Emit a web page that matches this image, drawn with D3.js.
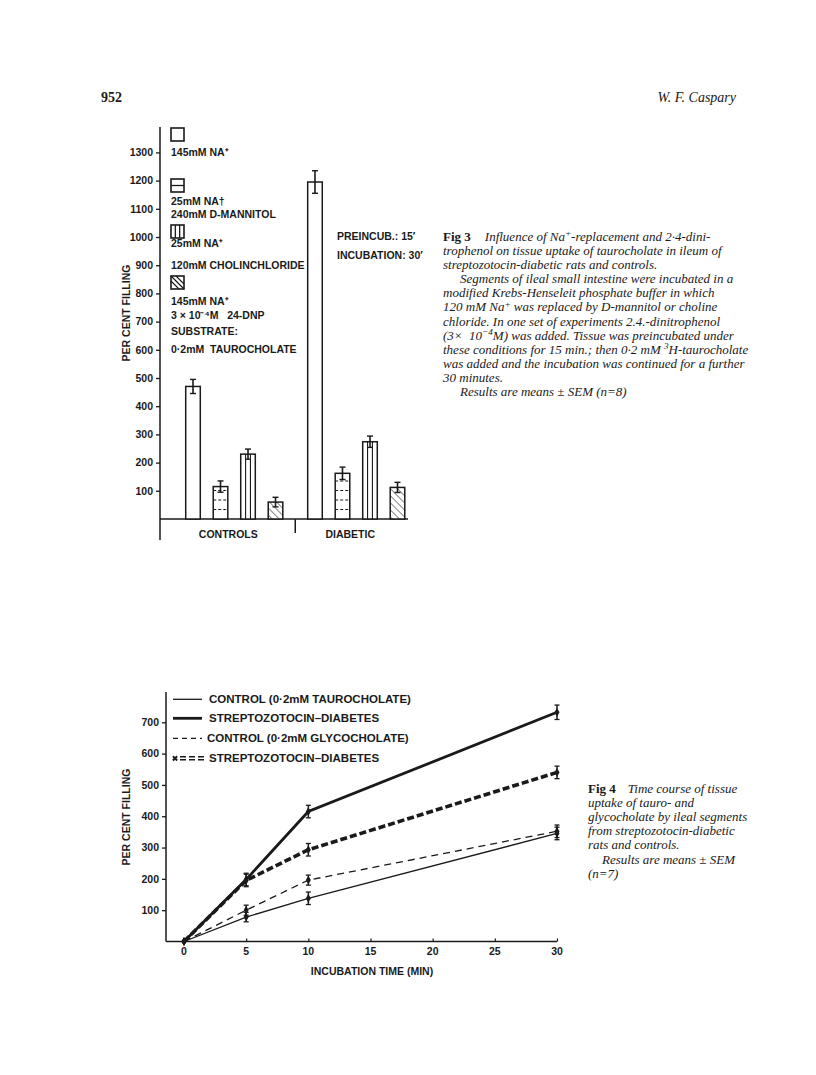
<!DOCTYPE html>
<html><head><meta charset="utf-8">
<script src="https://cdn.jsdelivr.net/npm/d3@7"></script>
<style>
html,body{margin:0;padding:0;background:#fff;}
svg{display:block;}
.sans{font-family:"Liberation Sans",Arial,sans-serif;font-weight:bold;fill:#1a1a1a;}
.serif{font-family:"Liberation Serif","Times New Roman",serif;fill:#1a1a1a;}
</style>
</head><body>
<svg id="c" width="816" height="1075"></svg>
<script>
// ---------- Fig 3 data ----------
const groups = ["CONTROLS", "DIABETIC"];
const conditions = ["145mM NA+", "25mM NA+ / 240mM D-MANNITOL", "25mM NA+ / 120mM CHOLINCHLORIDE", "145mM NA+ / 24-DNP"];
const controlsValues = [470, 115, 230, 60];
const controlsErrors = [25, 20, 18, 17];
const diabeticValues = [1195, 162, 274, 112];
const diabeticErrors = [40, 22, 20, 18];
const fig3Ticks = [100, 200, 300, 400, 500, 600, 700, 800, 900, 1000, 1100, 1200, 1300];

// ---------- Fig 4 data ----------
const times = [0, 5, 10, 30];
const ctrlTauro = [0, 78, 138, 345];
const ctrlTauroErr = [0, 15, 20, 20];
const diabTauro = [0, 198, 415, 732];
const diabTauroErr = [0, 20, 20, 23];
const ctrlGlyco = [0, 100, 196, 352];
const ctrlGlycoErr = [0, 16, 16, 20];
const diabGlyco = [0, 195, 293, 540];
const diabGlycoErr = [0, 20, 20, 20];
const fig4YTicks = [100, 200, 300, 400, 500, 600, 700];
const fig4XTicks = [0, 5, 10, 15, 20, 25, 30];
const fig4Legend = ["CONTROL (0·2mM TAUROCHOLATE)", "STREPTOZOTOCIN–DIABETES", "CONTROL (0·2mM GLYCOCHOLATE)", "STREPTOZOTOCIN–DIABETES"];

const svg = d3.select("#c");
const ink = "#1a1a1a";

// text with ^{sup} markup
function richText(sel, str) {
  const parts = str.split(/(\^\{[^}]*\})/);
  let raised = false;
  parts.forEach(p => {
    if (!p) return;
    if (p.startsWith("^{")) {
      sel.append("tspan").attr("dy", -4.5).attr("font-size", "0.7em").text(p.slice(2, -1));
      raised = true;
    } else {
      const t = sel.append("tspan").text(p);
      if (raised) { t.attr("dy", 4.5); raised = false; }
    }
  });
}

// ---------- header ----------
svg.append("text").attr("class","serif").attr("x",101).attr("y",102)
  .attr("font-size",14).attr("font-weight","bold").text("952");
svg.append("text").attr("class","serif").attr("x",736).attr("y",102)
  .attr("font-size",14).attr("font-style","italic").attr("text-anchor","end").text("W. F. Caspary");

// ---------- patterns ----------
const defs = svg.append("defs");
defs.append("pattern").attr("id","diag").attr("patternUnits","userSpaceOnUse")
  .attr("width",5).attr("height",5).attr("patternTransform","rotate(-45)")
  .append("line").attr("x1",0).attr("y1",0).attr("x2",0).attr("y2",5)
  .attr("stroke",ink).attr("stroke-width",1.1);

// ---------- Fig 3 ----------
const y3 = d3.scaleLinear().domain([0, 1300]).range([519, 152.4]);
const gx = d3.scaleBand().domain(groups).range([179.25, 411.25]).paddingInner(0.098).paddingOuter(0);
const ix = d3.scaleBand().domain(d3.range(4)).range([0, gx.bandwidth()]).paddingInner(0.47).paddingOuter(0.235);

const f3 = svg.append("g");
const yAxis3 = d3.axisLeft(y3).tickValues(fig3Ticks).tickSize(4).tickPadding(3).tickFormat(d3.format("d"));
const ya = f3.append("g").attr("transform","translate(160,0)").call(yAxis3);
ya.select(".domain").remove();
ya.selectAll("line").attr("stroke",ink).attr("stroke-width",1.3);
ya.selectAll("text").attr("font-size",10.5).attr("font-family","Liberation Sans, Arial, sans-serif").attr("font-weight","bold").attr("fill",ink);
f3.append("line").attr("x1",160).attr("x2",160).attr("y1",127).attr("y2",540).attr("stroke",ink).attr("stroke-width",1.5);
f3.append("line").attr("x1",160).attr("x2",408).attr("y1",y3(0)).attr("y2",y3(0)).attr("stroke",ink).attr("stroke-width",1.5);
const divX = (gx(groups[0]) + gx.bandwidth() + gx(groups[1])) / 2;
f3.append("line").attr("x1",divX).attr("x2",divX).attr("y1",y3(0)).attr("y2",533).attr("stroke",ink).attr("stroke-width",1.5);
groups.forEach(g => {
  f3.append("text").attr("class","sans").attr("font-size",10.5).attr("text-anchor","middle")
    .attr("x", gx(g) + gx.bandwidth()/2 - 6).attr("y", 538).text(g);
});
f3.append("text").attr("class","sans").attr("font-size",10.5).attr("text-anchor","middle")
  .attr("transform","translate(130,313) rotate(-90)").text("PER CENT FILLING");

const barData = [];
groups.forEach((g, gi) => {
  const vals = gi === 0 ? controlsValues : diabeticValues;
  const errs = gi === 0 ? controlsErrors : diabeticErrors;
  vals.forEach((v, i) => barData.push({g, i, v, e: errs[i]}));
});
function drawPattern(sel, i, x, y, w, h, baseY) {
  if (i === 1) {
    for (let yy = baseY - 9.5; yy > y + 2; yy -= 9.5) {
      sel.append("line").attr("x1",x).attr("x2",x+w).attr("y1",yy).attr("y2",yy)
        .attr("stroke",ink).attr("stroke-width",1).attr("stroke-dasharray","3,2");
    }
  } else if (i === 2) {
    [1/3, 2/3].forEach(f => sel.append("line").attr("x1",x+w*f).attr("x2",x+w*f)
      .attr("y1",y).attr("y2",y+h).attr("stroke",ink).attr("stroke-width",1.1));
  } else if (i === 3) {
    sel.append("rect").attr("x",x).attr("y",y).attr("width",w).attr("height",h).attr("fill","url(#diag)");
  }
}
barData.forEach(d => {
  const x = gx(d.g) + ix(d.i), w = ix.bandwidth();
  const yTop = y3(d.v), h = y3(0) - yTop;
  f3.append("rect").attr("x",x).attr("y",yTop).attr("width",w).attr("height",h).attr("fill","#fff");
  drawPattern(f3, d.i, x, yTop, w, h, y3(0));
  f3.append("rect").attr("x",x).attr("y",yTop).attr("width",w).attr("height",h)
    .attr("fill","none").attr("stroke",ink).attr("stroke-width",1.5);
  const cx = x + w/2;
  f3.append("line").attr("x1",cx).attr("x2",cx).attr("y1",y3(d.v + d.e)).attr("y2",y3(d.v - d.e)).attr("stroke",ink).attr("stroke-width",1.6);
  [d.v + d.e, d.v - d.e].forEach(v => f3.append("line").attr("x1",cx-3).attr("x2",cx+3)
    .attr("y1",y3(v)).attr("y2",y3(v)).attr("stroke",ink).attr("stroke-width",1.4));
});

// legend
const legIcons = [128, 179, 225, 276];
legIcons.forEach((yy, i) => {
  const x = 171, s = 13;
  const g = f3.append("g");
  g.append("rect").attr("x",x).attr("y",yy).attr("width",s).attr("height",s).attr("fill","#fff");
  if (i === 1) g.append("line").attr("x1",x).attr("x2",x+s).attr("y1",yy+s/2).attr("y2",yy+s/2).attr("stroke",ink).attr("stroke-width",1.3);
  if (i === 2) [1/3,2/3].forEach(f => g.append("line").attr("x1",x+s*f).attr("x2",x+s*f).attr("y1",yy).attr("y2",yy+s).attr("stroke",ink).attr("stroke-width",1.3));
  if (i === 3) {
    g.append("line").attr("x1",x).attr("y1",yy).attr("x2",x+s).attr("y2",yy+s).attr("stroke",ink).attr("stroke-width",1.3);
    g.append("line").attr("x1",x+5).attr("y1",yy).attr("x2",x+s).attr("y2",yy+s-5).attr("stroke",ink).attr("stroke-width",1.1);
    g.append("line").attr("x1",x).attr("y1",yy+5).attr("x2",x+s-5).attr("y2",yy+s).attr("stroke",ink).attr("stroke-width",1.1);
  }
  g.append("rect").attr("x",x).attr("y",yy).attr("width",s).attr("height",s).attr("fill","none").attr("stroke",ink).attr("stroke-width",1.6);
});
const legText = [
  [155.5, "145mM NA⁺"],
  [205, "25mM NA†"],
  [218, "240mM D-MANNITOL"],
  [247, "25mM NA⁺"],
  [269, "120mM CHOLINCHLORIDE"],
  [305, "145mM NA⁺"],
  [319, "3 × 10⁻⁴M   24-DNP"],
  [335, "SUBSTRATE:"],
  [353, "0·2mM  TAUROCHOLATE"]
];
legText.forEach(([yy, t]) => f3.append("text").attr("class","sans").attr("font-size",10.5)
  .attr("x",171).attr("y",yy).style("white-space","pre").text(t));
f3.append("text").attr("class","sans").attr("font-size",10.5).attr("x",337).attr("y",240).text("PREINCUB.: 15′");
f3.append("text").attr("class","sans").attr("font-size",10.5).attr("x",337).attr("y",259).text("INCUBATION: 30′");

// caption fig 3
const cap3 = [
  [0, null],
  [0, "trophenol on tissue uptake of taurocholate in ileum of"],
  [0, "streptozotocin-diabetic rats and controls."],
  [17, "Segments of ileal small intestine were incubated in a"],
  [0, "modified Krebs-Henseleit phosphate buffer in which"],
  [0, "120 mM Na^{+} was replaced by D-mannitol or choline"],
  [0, "chloride. In one set of experiments 2.4.-dinitrophenol"],
  [0, "(3×  10^{−4}M) was added. Tissue was preincubated under"],
  [0, "these conditions for 15 min.; then 0·2 mM ^{3}H-taurocholate"],
  [0, "was added and the incubation was continued for a further"],
  [0, "30 minutes."],
  [17, "Results are means ± SEM (n=8)"]
];
cap3.forEach(([ind, t], k) => {
  const tx = svg.append("text").attr("class","serif").attr("font-size",13)
    .attr("x",443 + ind).attr("y",240.7 + k*14.15).attr("font-style","italic").style("white-space","pre");
  if (t === null) {
    tx.append("tspan").attr("font-style","normal").attr("font-weight","bold").text("Fig 3");
    tx.append("tspan").attr("dx",14).text("Influence of Na");
    tx.append("tspan").attr("dy",-4.5).attr("font-size","0.7em").text("+");
    tx.append("tspan").attr("dy",4.5).text("-replacement and 2·4-dini-");
  } else richText(tx, t);
});

// ---------- Fig 4 ----------
const x4 = d3.scaleLinear().domain([0, 30]).range([184, 557]);
const y4 = d3.scaleLinear().domain([0, 700]).range([941.5, 722.3]);
const f4 = svg.append("g");
const ya4 = f4.append("g").attr("transform","translate(166,0)")
  .call(d3.axisLeft(y4).tickValues(fig4YTicks).tickSize(4).tickPadding(3).tickFormat(d3.format("d")));
ya4.select(".domain").remove();
ya4.selectAll("line").attr("stroke",ink).attr("stroke-width",1.3);
ya4.selectAll("text").attr("font-size",10.5).attr("font-family","Liberation Sans, Arial, sans-serif").attr("font-weight","bold").attr("fill",ink);
const xa4 = f4.append("g").attr("transform",`translate(0,${y4(0)})`)
  .call(d3.axisTop(x4).tickValues(fig4XTicks).tickSize(3).tickFormat(d3.format("d")));
xa4.select(".domain").remove();
xa4.selectAll("text").remove();
xa4.selectAll("line").attr("stroke",ink).attr("stroke-width",1.2);
fig4XTicks.forEach(t => f4.append("text").attr("class","sans").attr("font-size",10.5).attr("text-anchor","middle")
  .attr("x",x4(t)).attr("y",955).text(t));
f4.append("line").attr("x1",166).attr("x2",166).attr("y1",692).attr("y2",y4(0)).attr("stroke",ink).attr("stroke-width",1.5);
f4.append("line").attr("x1",166).attr("x2",557).attr("y1",y4(0)).attr("y2",y4(0)).attr("stroke",ink).attr("stroke-width",1.5);
f4.append("text").attr("class","sans").attr("font-size",10.5).attr("text-anchor","middle")
  .attr("x",372).attr("y",975).text("INCUBATION TIME (MIN)");
f4.append("text").attr("class","sans").attr("font-size",10.5).attr("text-anchor","middle")
  .attr("transform","translate(130,817) rotate(-90)").text("PER CENT FILLING");

const series = [
  {v: ctrlTauro, e: ctrlTauroErr, w: 1.3, dash: null},
  {v: diabTauro, e: diabTauroErr, w: 2.8, dash: null},
  {v: ctrlGlyco, e: ctrlGlycoErr, w: 1.3, dash: "7,5"},
  {v: diabGlyco, e: diabGlycoErr, w: 3.6, dash: "7,3"}
];
const line = d3.line().x((d, i) => x4(times[i])).y(d => y4(d));
series.forEach(s => {
  f4.append("path").attr("d", line(s.v)).attr("fill","none").attr("stroke",ink)
    .attr("stroke-width",s.w).attr("stroke-dasharray",s.dash);
  s.v.forEach((v, i) => {
    const cx = x4(times[i]);
    if (s.e[i] > 0) {
      f4.append("line").attr("x1",cx).attr("x2",cx).attr("y1",y4(v + s.e[i])).attr("y2",y4(v - s.e[i])).attr("stroke",ink).attr("stroke-width",1.5);
      [v + s.e[i], v - s.e[i]].forEach(vv => f4.append("line").attr("x1",cx-2.5).attr("x2",cx+2.5)
        .attr("y1",y4(vv)).attr("y2",y4(vv)).attr("stroke",ink).attr("stroke-width",1.3));
    }
    f4.append("path").attr("d", d3.symbol().type(d3.symbolDiamond).size(22)())
      .attr("transform",`translate(${cx},${y4(v)})`).attr("fill",ink);
  });
});

// legend fig 4
const legY = [699.3, 718.3, 738.3, 758.3];
const legX = [209, 209, 207, 209];
legY.forEach((yy, k) => {
  if (k === 0) f4.append("line").attr("x1",173).attr("x2",202).attr("y1",yy).attr("y2",yy).attr("stroke",ink).attr("stroke-width",1.3);
  if (k === 1) f4.append("line").attr("x1",173).attr("x2",202).attr("y1",yy).attr("y2",yy).attr("stroke",ink).attr("stroke-width",2.8);
  if (k === 2) f4.append("line").attr("x1",173).attr("x2",202).attr("y1",yy).attr("y2",yy).attr("stroke",ink).attr("stroke-width",1.3).attr("stroke-dasharray","5,4");
  if (k === 3) {
    [-1.5, 1.5].forEach(o => f4.append("line").attr("x1",180).attr("x2",205).attr("y1",yy+o).attr("y2",yy+o)
      .attr("stroke",ink).attr("stroke-width",1.4).attr("stroke-dasharray","6,3"));
    f4.append("path").attr("d", d3.symbol().type(d3.symbolCross).size(20)())
      .attr("transform",`translate(175,${yy}) rotate(45)`).attr("fill",ink);
  }
  f4.append("text").attr("class","sans").attr("font-size",11.5).attr("x",legX[k]).attr("y",yy+4).text(fig4Legend[k]);
});

// caption fig 4
const cap4 = [
  [0, null],
  [0, "uptake of tauro- and"],
  [0, "glycocholate by ileal segments"],
  [0, "from streptozotocin-diabetic"],
  [0, "rats and controls."],
  [14, "Results are means ± SEM"],
  [0, "(n=7)"]
];
cap4.forEach(([ind, t], k) => {
  const tx = svg.append("text").attr("class","serif").attr("font-size",13)
    .attr("x",588 + ind).attr("y",792.5 + k*14.2).attr("font-style","italic");
  if (t === null) {
    tx.append("tspan").attr("font-style","normal").attr("font-weight","bold").text("Fig 4");
    tx.append("tspan").attr("dx",12).text("Time course of tissue");
  } else tx.text(t);
});
</script>
</body></html>
